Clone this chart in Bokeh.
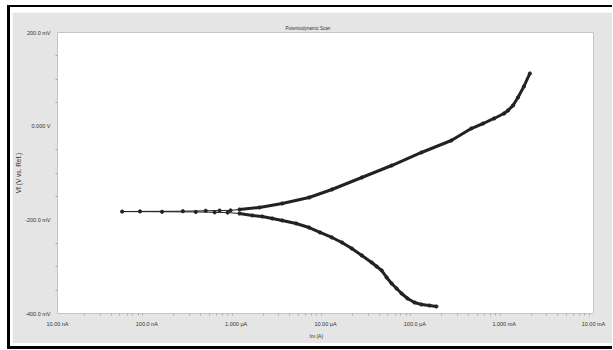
import numpy as np
from bokeh.plotting import figure
from bokeh.models import FixedTicker, Title
from bokeh.layouts import column
from bokeh.embed import file_html
from bokeh.resources import INLINE

# Potentiodynamic scan, in scan order (cathodic -> Ecorr -> anodic)
current_A = [
    1.743e-4, 1.457e-4, 1.187e-4, 9.92e-5, 8.29e-5, 7.11e-5, 6.25e-5, 5.50e-5,
    4.84e-5, 4.26e-5, 3.74e-5, 3.29e-5, 2.55e-5, 1.97e-5, 1.53e-5, 1.18e-5,
    8.69e-6, 6.55e-6, 4.69e-6, 3.28e-6, 2.54e-6, 1.96e-6, 1.52e-6, 1.09e-6,
    8.01e-7, 5.74e-7, 3.53e-7, 1.48e-7, 5.29e-8,
    8.39e-8, 2.53e-7, 4.56e-7, 6.53e-7, 8.65e-7,
    1.09e-6, 1.82e-6, 3.28e-6, 6.55e-6, 1.18e-5, 2.55e-5, 5.50e-5, 1.187e-4,
    2.56e-4, 4.28e-4, 5.82e-4, 7.71e-4, 9.96e-4, 1.104e-3, 1.255e-3,
    1.426e-3, 1.663e-3, 1.94e-3,
]
potential_V = [
    -0.3850, -0.3829, -0.3808, -0.3765, -0.3680, -0.3573, -0.3466, -0.3359,
    -0.3231, -0.3082, -0.2996, -0.2911, -0.2761, -0.2612, -0.2484, -0.2377,
    -0.2270, -0.2164, -0.2078, -0.2014, -0.1971, -0.1929, -0.1907, -0.1865,
    -0.1845, -0.1840, -0.1832, -0.1828, -0.1824,
    -0.1820, -0.1816, -0.1806, -0.1802, -0.1799,
    -0.1779, -0.1737, -0.1651, -0.1523, -0.1352, -0.1096, -0.0840, -0.0562,
    -0.0306, -0.0050, 0.0057, 0.0164, 0.0270, 0.0335, 0.0441,
    0.0612, 0.0847, 0.1125,
]

x_ticks = [1e-8, 1e-7, 1e-6, 1e-5, 1e-4, 1e-3, 1e-2]
x_tick_labels = ["10.00 nA", "100.0 nA", "1.000 \u00b5A", "10.00 \u00b5A",
                 "100.0 \u00b5A", "1.000 mA", "10.00 mA"]
x_minor = [m * d for d in x_ticks[:-1] for m in range(2, 10)]
y_ticks = [-0.4, -0.2, 0.0, 0.2]
y_tick_labels = ["-400.0 mV", "-200.0 mV", "0.000 V", "200.0 mV"]
y_minor = [-0.35, -0.3, -0.25, -0.15, -0.1, -0.05, 0.05, 0.1, 0.15]

FONT = "Liberation Sans"
GRAY = "#e5e5e5"
TXT = "#333333"

p = figure(width=600, height=331, x_axis_type="log",
           x_range=(1e-8, 1e-2), y_range=(-0.4, 0.2),
           output_backend="svg", toolbar_location=None,
           min_border_left=42, min_border_right=19,
           min_border_top=20, min_border_bottom=30,
           background_fill_color="white", border_fill_color=GRAY)
p.grid.visible = False
p.outline_line_color = "#c4c4c4"

p.title.text = "Potentiodynamic Scan"
p.title.align = "left"
p.title.offset = 228
p.title.standoff = 4
p.title.text_font = FONT
p.title.text_font_size = "4.5px"
p.title.text_font_style = "normal"
p.title.text_color = TXT

for ax in (p.xaxis[0], p.yaxis[0]):
    ax.axis_line_color = None
    ax.major_tick_line_color = None
    ax.major_tick_out = 0
    ax.major_tick_in = 0
    ax.minor_tick_line_color = "#a8a8a8"
    ax.minor_tick_out = 2
    ax.minor_tick_in = 0
    ax.major_label_text_font = FONT
    ax.major_label_text_font_size = "5.5px"
    ax.major_label_text_color = TXT
    ax.axis_label_text_font = FONT
    ax.axis_label_text_font_style = "normal"
    ax.axis_label_text_color = TXT

p.xaxis[0].ticker = FixedTicker(ticks=x_ticks, minor_ticks=x_minor)
p.xaxis[0].major_label_overrides = dict(zip(x_ticks, x_tick_labels))
p.xaxis[0].major_label_standoff = 5
p.yaxis[0].ticker = FixedTicker(ticks=y_ticks, minor_ticks=y_minor)
p.yaxis[0].major_label_overrides = dict(zip(y_ticks, y_tick_labels))
p.yaxis[0].major_label_standoff = 5
p.yaxis[0].axis_label = "Vf (V vs. Ref.)"
p.yaxis[0].axis_label_text_font_size = "6.5px"
p.yaxis[0].axis_label_standoff = 0

p.add_layout(Title(text="Im (A)", align="left", offset=252, standoff=3,
                   text_font=FONT, text_font_size="5px",
                   text_font_style="normal", text_color=TXT), "below")

I = np.array(current_A)
V = np.array(potential_V)
dense_c = slice(0, 24)
dense_a = slice(34, len(I))

p.line(I, V, line_color="#222222", line_width=1)
p.line(I[dense_c], V[dense_c], line_color="#222222", line_width=3)
p.line(I[dense_a], V[dense_a], line_color="#222222", line_width=3)
p.scatter(I, V, marker="circle", size=3.2, fill_color="#222222",
          line_color="#222222")

layout = column(p, styles={
    "margin-left": "7px",
    "margin-top": "5px",
    "border-left": "3px solid black",
    "border-top": "2px solid black",
    "border-bottom": "3px solid black",
    "padding": "5px 0px 3px 2px",
    "background-color": "white",
})

open("out.html", "w").write(file_html(layout, INLINE))
